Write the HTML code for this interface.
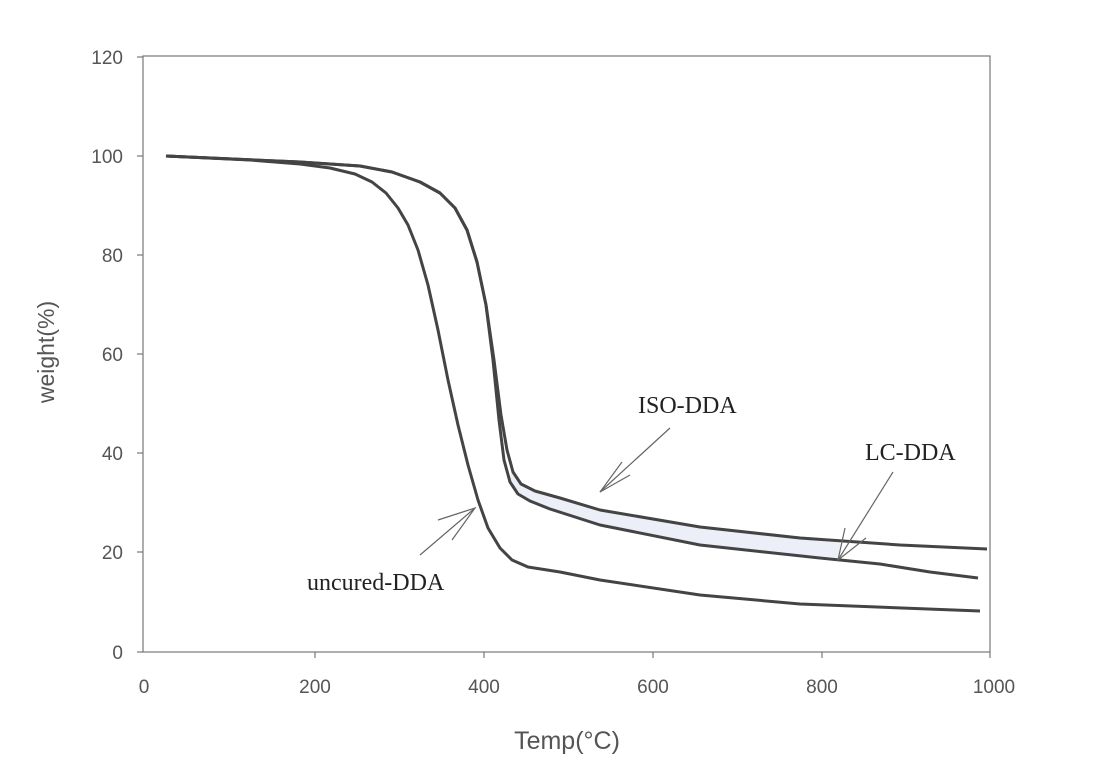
<!DOCTYPE html>
<html><head><style>
body{margin:0;background:#fff;}
svg text{font-family:"Liberation Sans",sans-serif;}
</style></head><body>
<svg width="1102" height="776" viewBox="0 0 1102 776" xmlns="http://www.w3.org/2000/svg">
<rect width="1102" height="776" fill="#fff"/>
<rect x="143" y="56" width="847" height="596" fill="none" stroke="#777" stroke-width="1.2"/>
<g stroke="#777" stroke-width="1.2">
<line x1="137" y1="57" x2="143" y2="57"/><line x1="137" y1="156" x2="143" y2="156"/><line x1="137" y1="255" x2="143" y2="255"/><line x1="137" y1="354" x2="143" y2="354"/><line x1="137" y1="453" x2="143" y2="453"/><line x1="137" y1="552" x2="143" y2="552"/><line x1="137" y1="652" x2="143" y2="652"/>
<line x1="315" y1="652" x2="315" y2="658"/><line x1="484" y1="652" x2="484" y2="658"/><line x1="653" y1="652" x2="653" y2="658"/><line x1="822" y1="652" x2="822" y2="658"/><line x1="990" y1="652" x2="990" y2="658"/>
</g>
<g fill="#555" font-size="19" text-anchor="end">
<text x="123" y="64">120</text><text x="123" y="163">100</text><text x="123" y="262">80</text><text x="123" y="361">60</text><text x="123" y="460">40</text><text x="123" y="559">20</text><text x="123" y="659">0</text>
</g>
<g fill="#555" font-size="19" text-anchor="middle">
<text x="144" y="693">0</text><text x="315" y="693">200</text><text x="484" y="693">400</text><text x="653" y="693">600</text><text x="822" y="693">800</text><text x="994" y="693">1000</text>
</g>
<text x="567" y="749" font-size="25" fill="#555" text-anchor="middle">Temp(°C)</text>
<text transform="translate(54,352) rotate(-90)" font-size="23" fill="#555" text-anchor="middle">weight(%)</text>
<path d="M512,465 L518,482 L530,490 L545,494 L600,510 L700,527 L840,540 L840,558 L700,545 L600,525 L545,508 L528,502 L518,495 L510,480Z" fill="#eceef8"/>
<g fill="none" stroke="#444" stroke-width="3" stroke-linejoin="round">
<path d="M166,156 L250,160 L300,164 L330,168 L355,174 L372,182 L386,193 L398,208 L408,225 L418,250 L428,285 L438,330 L448,380 L458,425 L468,465 L478,500 L488,528 L500,548 L512,560 L528,567 L560,572 L600,580 L700,595 L800,604 L980,611"/>
<path d="M166,156 L300,162 L360,166 L392,172 L420,182 L440,193 L455,208 L467,230 L477,262 L486,305 L494,360 L501,415 L507,450 L513,472 L521,484 L535,491 L560,498 L600,510 L700,527 L800,538 L900,545 L987,549"/>
<path d="M166,156 L300,162 L360,166 L392,172 L420,182 L440,193 L455,208 L467,230 L477,262 L486,305 L493,360 L499,420 L504,460 L510,482 L518,494 L530,501 L550,509 L600,525 L700,545 L820,558 L880,564 L930,572 L978,578"/>
</g>
<g stroke="#666" stroke-width="1.2" fill="none">
<line x1="670" y1="428" x2="600" y2="492"/><path d="M622,462 L600,492 L630,475"/>
<line x1="893" y1="472" x2="838" y2="560"/><path d="M845,528 L838,560 L866,538"/>
<line x1="420" y1="555" x2="475" y2="508"/><path d="M438,520 L475,508 L452,540"/>
</g>
<g font-size="24" fill="#222">
<text x="638" y="413" style="font-family:'Liberation Serif',serif">ISO-DDA</text>
<text x="865" y="460" style="font-family:'Liberation Serif',serif">LC-DDA</text>
<text x="307" y="590" style="font-family:'Liberation Serif',serif">uncured-DDA</text>
</g>
</svg>
</body></html>
